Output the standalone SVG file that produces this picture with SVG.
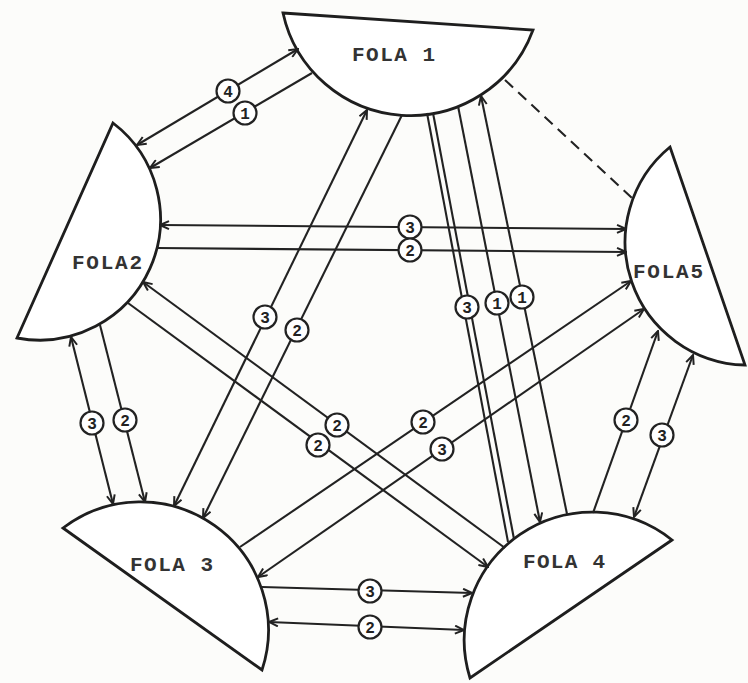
<svg xmlns="http://www.w3.org/2000/svg" width="748" height="683" viewBox="0 0 748 683">
<defs>
<marker id="ah" viewBox="0 0 12 10" refX="11" refY="5" markerWidth="12" markerHeight="10" markerUnits="userSpaceOnUse" orient="auto-start-reverse">
<path d="M2,1 L11,5 L2,9" fill="none" stroke="#222" stroke-width="2"/>
</marker>
</defs>
<style>
.node path{fill:#fff;stroke:#1e1e1e;stroke-width:2.8;stroke-linejoin:miter}
.node text{font-family:"Liberation Mono","DejaVu Sans Mono",monospace;font-size:21px;font-weight:bold;fill:#333}
.c line{stroke:#222;stroke-width:2.1;fill:none}
.c .d{marker-end:url(#ah);marker-start:url(#ah)}
.c .e{marker-end:url(#ah)}
.c circle{fill:#fff;stroke:#222;stroke-width:2.2}
.c text{font-family:"Liberation Mono","DejaVu Sans Mono",monospace;font-size:16px;font-weight:bold;fill:#222;text-anchor:middle}
.dash{stroke:#333;stroke-width:2.2;stroke-dasharray:11 7}
</style>
<rect width="748" height="683" fill="#fcfcfa"/>

<g id="fola1" class="node">
<path d="M283,13 L533,30 A130.5 130.5 0 0 1 283,13 Z"/>
<text x="352" y="61" textLength="83" lengthAdjust="spacing">FOLA 1</text>
</g>
<g id="fola2" class="node">
<path d="M17,338 L113,123 A121 121 0 0 1 17,338 Z"/>
<text x="72" y="269" textLength="70" lengthAdjust="spacing">FOLA2</text>
</g>
<g id="fola5" class="node">
<path d="M670,147 L745,365 A123 123 0 0 1 670,147 Z"/>
<text x="633" y="278" textLength="70" lengthAdjust="spacing">FOLA5</text>
</g>
<g id="fola3" class="node">
<path d="M63,528 L262,670 A128 128 0 0 0 63,528 Z"/>
<text x="130" y="571" textLength="83" lengthAdjust="spacing">FOLA 3</text>
</g>
<g id="fola4" class="node">
<path d="M672,540 L470,678 A128 128 0 0 1 672,540 Z"/>
<text x="523" y="568" textLength="82" lengthAdjust="spacing">FOLA 4</text>
</g>

<g id="connectors" class="c">
<line class="dash" x1="505" y1="80" x2="632" y2="198"/>

<line class="d" x1="137" y1="145" x2="298" y2="49"/>
<circle cx="228" cy="91" r="11.5"/><text x="228" y="96.5">4</text>
<line class="e" x1="312" y1="73" x2="150" y2="168"/>
<circle cx="245" cy="113" r="11.5"/><text x="245" y="118.5">1</text>

<line class="d" x1="160" y1="225" x2="626" y2="229"/>
<circle cx="410" cy="227" r="11.5"/><text x="410" y="232.5">3</text>
<line class="e" x1="157" y1="248" x2="626" y2="252"/>
<circle cx="410" cy="250" r="11.5"/><text x="410" y="255.5">2</text>

<line class="e" x1="262" y1="587" x2="472" y2="593"/>
<circle cx="370" cy="591" r="11.5"/><text x="370" y="596.5">3</text>
<line class="d" x1="269" y1="622" x2="464" y2="630"/>
<circle cx="370" cy="627" r="11.5"/><text x="370" y="632.5">2</text>

<line class="d" x1="71" y1="337" x2="113" y2="504"/>
<circle cx="92" cy="423" r="11.5"/><text x="92" y="428.5">3</text>
<line class="e" x1="100" y1="325" x2="145" y2="502"/>
<circle cx="125" cy="420" r="11.5"/><text x="125" y="425.5">2</text>

<line class="d" x1="367" y1="110" x2="174" y2="506"/>
<circle cx="265" cy="317" r="11.5"/><text x="265" y="322.5">3</text>
<line class="e" x1="402" y1="115" x2="203" y2="518"/>
<circle cx="297" cy="330" r="11.5"/><text x="297" y="335.5">2</text>

<line x1="427" y1="113" x2="508" y2="542"/>
<line x1="433" y1="113" x2="514" y2="539"/>
<circle cx="467" cy="307" r="11.5"/><text x="467" y="312.5">3</text>
<line class="e" x1="458" y1="106" x2="540" y2="522"/>
<circle cx="497" cy="303" r="11.5"/><text x="497" y="308.5">1</text>
<line class="e" x1="567" y1="514" x2="481" y2="96"/>
<circle cx="522" cy="297" r="11.5"/><text x="522" y="302.5">1</text>

<line class="e" x1="505" y1="548" x2="143" y2="282"/>
<circle cx="337" cy="425" r="11.5"/><text x="337" y="430.5">2</text>
<line class="e" x1="128" y1="303" x2="488" y2="567"/>
<circle cx="318" cy="445" r="11.5"/><text x="318" y="450.5">2</text>

<line class="e" x1="240" y1="547" x2="631" y2="281"/>
<circle cx="423" cy="422" r="11.5"/><text x="423" y="427.5">2</text>
<line class="d" x1="258" y1="577" x2="644" y2="309"/>
<circle cx="442" cy="449" r="11.5"/><text x="442" y="454.5">3</text>

<line class="e" x1="593" y1="513" x2="658" y2="331"/>
<circle cx="626" cy="420" r="11.5"/><text x="626" y="425.5">2</text>
<line class="d" x1="634" y1="517" x2="693" y2="355"/>
<circle cx="662" cy="435" r="11.5"/><text x="662" y="440.5">3</text>
</g>
</svg>
